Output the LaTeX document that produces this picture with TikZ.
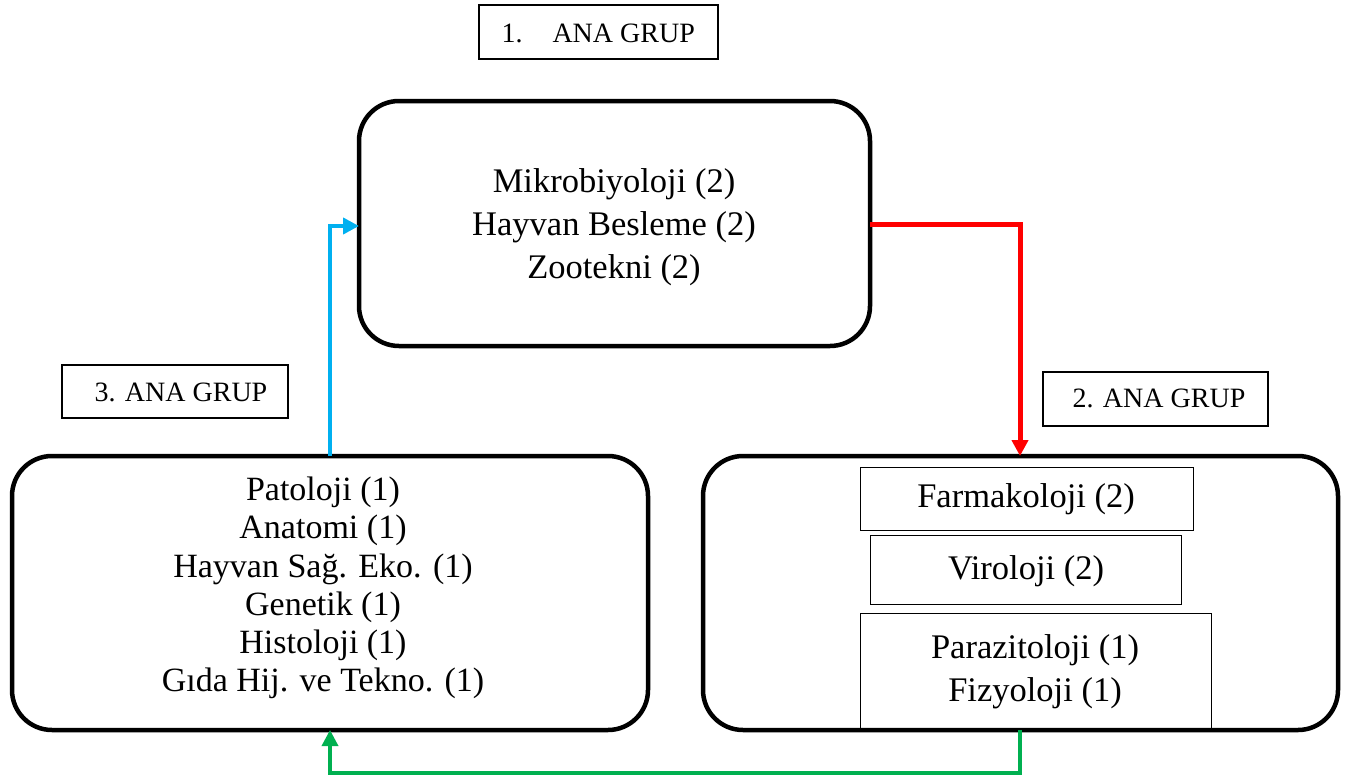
\documentclass[tikz,border=0pt]{standalone}
\usepackage{fontspec}
\setmainfont{Liberation Serif}
\usetikzlibrary{arrows.meta}
\definecolor{cblue}{RGB}{0,176,240}
\definecolor{cred}{RGB}{255,0,0}
\definecolor{cgreen}{RGB}{0,176,80}
\begin{document}
\begin{tikzpicture}[x=1pt,y=-1pt,
  bigbox/.style={draw=black,line width=4.5pt,rounded corners=40pt},
  labelbox/.style={draw=black,line width=2pt},
  subbox/.style={draw=black,line width=1pt},
  bigtext/.style={font=\fontsize{34.5}{43}\selectfont,align=center},
  lefttext/.style={font=\fontsize{34}{38.3}\selectfont,align=center},
  smalltext/.style={font=\fontsize{28}{30}\selectfont},
  arr/.style={-{Triangle[length=16pt,width=16pt]}}
]
\useasboundingbox (0,0) rectangle (1362,776);

% label boxes
\draw[labelbox] (479,5) rectangle (718,59);
\node[smalltext,anchor=west] (g1) at (498,33) {1.\hspace{30pt}ANA GRUP};
\draw[labelbox] (62,365) rectangle (288,418);
\node[smalltext] (g3) at (181,392) {3. ANA GRUP};
\draw[labelbox] (1043,372) rectangle (1268,426);
\node[smalltext] (g2) at (1159,398) {2. ANA GRUP};

% top box
\draw[bigbox] (359,101) rectangle (870,346);
\coordinate (topL) at (359,226);
\coordinate (topR) at (870,224);
\node[bigtext] (top) at (614,227) {Mikrobiyoloji (2)\\Hayvan Besleme (2)\\Zootekni (2)};

% left box
\draw[bigbox] (12,456) rectangle (648,730);
\coordinate (leftT) at (330,456);
\coordinate (leftB) at (330,730);
\node[lefttext] (left) at (323,588) {Patoloji (1)\\Anatomi (1)\\Hayvan Sağ. Eko. (1)\\Genetik (1)\\Histoloji (1)\\Gıda Hij. ve Tekno. (1)};

% right box: inner boxes first, then frame
\draw[subbox,fill=white] (860,467) rectangle (1193,530);
\node[bigtext] (farm) at (1026,499) {Farmakoloji (2)};
\draw[subbox,fill=white] (870,535) rectangle (1181,604);
\node[bigtext] (viro) at (1026,571) {Viroloji (2)};
\draw[subbox,fill=white] (860,613) rectangle (1211,728);
\node[bigtext] (para) at (1035,672) {Parazitoloji (1)\\Fizyoloji (1)};
\draw[bigbox] (703,456) rectangle (1338,730);
\coordinate (rightT) at (1020,456);
\coordinate (rightB) at (1020,730);

% connectors
\draw[cblue,line width=4pt,arr] (leftT) |- (topL);
\draw[cred,line width=5pt,arr] (topR) -| (rightT);
\coordinate (gc1) at (1020,773);
\coordinate (gc2) at (330,773);
\draw[cgreen,line width=3.5pt,arr] (rightB) -- (gc1) -- (gc2) -- (leftB);
\end{tikzpicture}
\end{document}
